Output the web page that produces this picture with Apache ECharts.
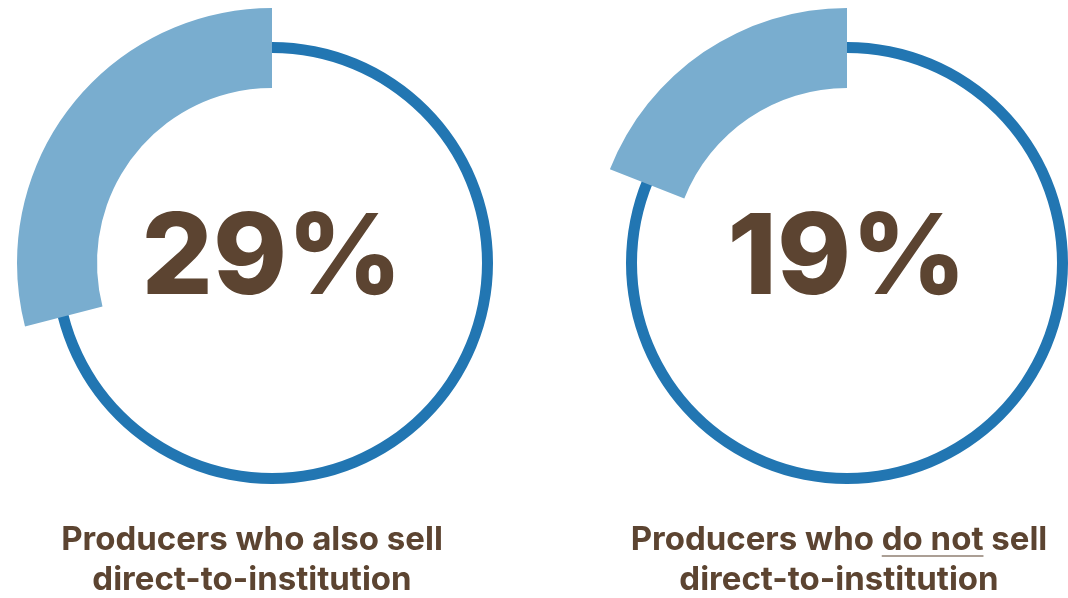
<!DOCTYPE html>
<html>
<head>
<meta charset="utf-8">
<title>Direct-to-institution sales</title>
<script src="https://cdn.jsdelivr.net/npm/echarts@6/dist/echarts.min.js"></script>
<style>
  html, body { margin: 0; padding: 0; background: #ffffff; }
  #chart { width: 1068px; height: 598px; }
</style>
</head>
<body>
<div id="chart"></div>
<script>
// Share of producers in each group (percent)
const groupNames = ['alsoSell', 'doNotSell'];
const shares = [29, 19];
// Caption lines under each ring; the middle part of line one is underlined when flagged
const captionStart = ['Producers who ', 'Producers who '];
const captionKey = ['also', 'do not'];
const captionEnd = [' sell', ' sell'];
const captionKeyUnderlined = [false, true];
const captionLine2 = ['direct-to-institution', 'direct-to-institution'];

const RING = '#2276b2';
const ARC = '#79adcf';
const BROWN = '#5c4431';
const FONT = 'Inter, "Noto Sans", sans-serif';

const centers = [[272, 263], [847, 263]];
const captionX = [252, 839];
const captionY = [540, 580];
const captionSize = 33;

const chart = echarts.init(document.getElementById('chart'), null, { renderer: 'canvas' });

const series = [];
shares.forEach(function (v, i) {
  // thin full ring
  series.push({
    type: 'pie',
    id: groupNames[i] + '-ring',
    silent: true,
    center: centers[i],
    radius: [210, 221],
    label: { show: false },
    labelLine: { show: false },
    itemStyle: { color: RING },
    data: [{ value: 100 }],
    animation: false
  });
  // thick share arc, counter-clockwise from 12 o'clock
  series.push({
    type: 'pie',
    id: groupNames[i],
    silent: true,
    center: centers[i],
    radius: [175, 255],
    startAngle: 90,
    clockwise: false,
    avoidLabelOverlap: false,
    labelLine: { show: false },
    animation: false,
    data: [
      {
        value: v,
        itemStyle: { color: ARC },
        label: {
          show: true,
          position: 'center',
          formatter: '{c}%',
          color: BROWN,
          fontFamily: FONT,
          fontWeight: 800,
          fontSize: 112,
          offset: [0, -3]
        }
      },
      {
        value: 100 - v,
        itemStyle: { color: 'rgba(0,0,0,0)' },
        label: { show: false }
      }
    ]
  });
});

// measure text to place the underline under the highlighted words
const captionFont = '700 ' + captionSize + 'px ' + FONT;
const ctx = document.createElement('canvas').getContext('2d');
ctx.font = captionFont;

const graphics = [];
shares.forEach(function (v, i) {
  const line1 = captionStart[i] + captionKey[i] + captionEnd[i];
  graphics.push({
    type: 'text',
    id: 'cap1-' + i,
    x: captionX[i],
    y: captionY[0],
    silent: true,
    style: {
      text: line1,
      fill: BROWN,
      font: captionFont,
      align: 'center',
      verticalAlign: 'middle'
    }
  });
  graphics.push({
    type: 'text',
    id: 'cap2-' + i,
    x: captionX[i],
    y: captionY[1],
    silent: true,
    style: {
      text: captionLine2[i],
      fill: BROWN,
      font: captionFont,
      align: 'center',
      verticalAlign: 'middle'
    }
  });
  if (captionKeyUnderlined[i]) {
    const total = ctx.measureText(line1).width;
    const pre = ctx.measureText(captionStart[i]).width;
    const key = ctx.measureText(captionKey[i]).width;
    const x0 = captionX[i] - total / 2 + pre;
    const yU = captionY[0] + 16;
    graphics.push({
      type: 'line',
      id: 'underline-' + i,
      silent: true,
      shape: { x1: x0, y1: yU, x2: x0 + key, y2: yU },
      style: { stroke: '#8f7f72', lineWidth: 1.5 }
    });
  }
});

chart.setOption({
  backgroundColor: '#ffffff',
  animation: false,
  series: series,
  graphic: graphics
});
</script>
</body>
</html>
